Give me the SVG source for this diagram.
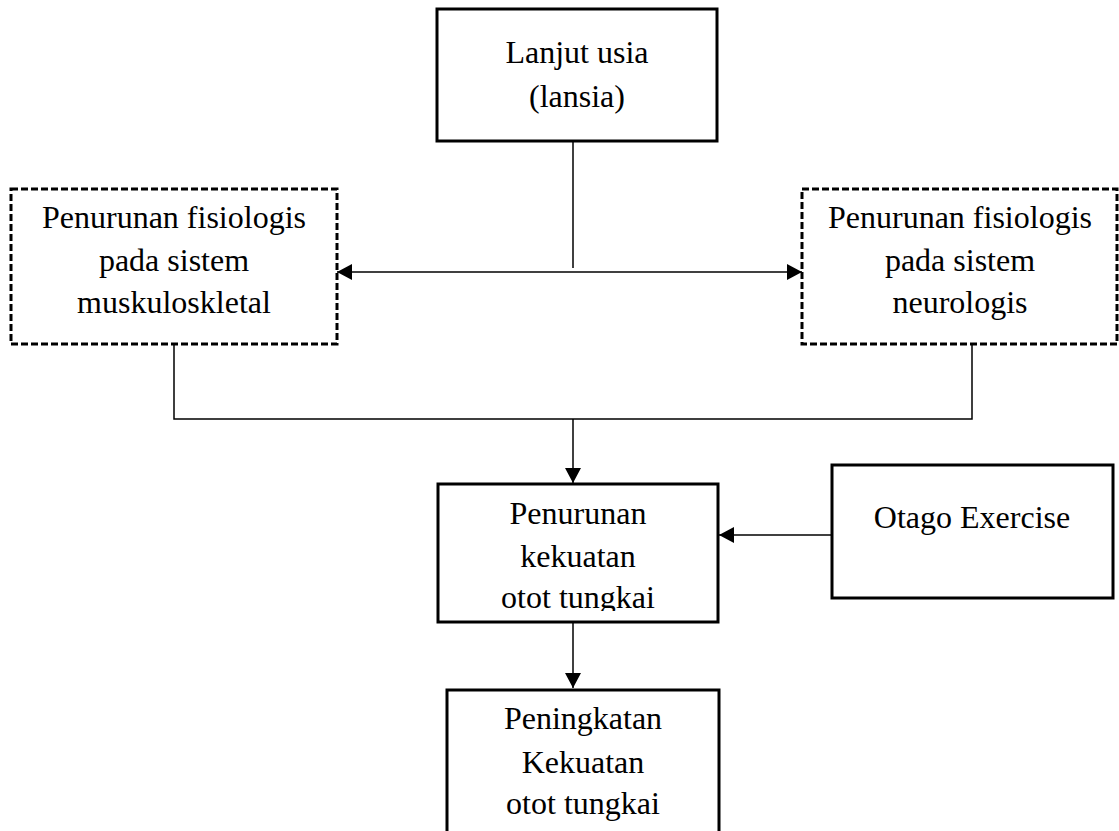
<svg xmlns="http://www.w3.org/2000/svg" width="1119" height="831" viewBox="0 0 1119 831">
<style>
.box{fill:#fff;stroke:#000;stroke-width:3}
.dbox{fill:#fff;stroke:#000;stroke-width:3;stroke-dasharray:7,3}
.t{font-family:"Liberation Serif","Times New Roman",serif;font-size:32px;fill:#000;text-anchor:middle}
.c{fill:none;stroke:#000;stroke-width:1.5}
</style>
<defs>
<marker id="ah" viewBox="0 0 15 16" refX="15" refY="8" markerWidth="15" markerHeight="16" markerUnits="userSpaceOnUse" orient="auto-start-reverse">
<path d="M0,0 L15,8 L0,16 z" fill="#000"/>
</marker>
<clipPath id="clipMid"><rect x="438" y="484" width="280" height="127"/></clipPath>
</defs>
<rect width="1119" height="831" fill="#fff"/>
<g id="connectors">
<line class="c" x1="573" y1="141" x2="573" y2="268"/>
<line class="c" x1="337" y1="272" x2="802" y2="272" marker-start="url(#ah)" marker-end="url(#ah)"/>
<polyline class="c" points="174,345 174,419 972,419 972,345"/>
<line class="c" x1="573" y1="419" x2="573" y2="483" marker-end="url(#ah)"/>
<line class="c" x1="832" y1="535" x2="719" y2="535" marker-end="url(#ah)"/>
<line class="c" x1="573" y1="622" x2="573" y2="688" marker-end="url(#ah)"/>
</g>
<g id="lansia">
<rect class="box" x="437" y="9" width="280" height="132"/>
<text class="t" x="577" y="63">Lanjut usia</text>
<text class="t" x="577" y="107">(lansia)</text>
</g>
<g id="muskulo">
<rect class="dbox" x="11" y="189" width="326" height="155"/>
<text class="t" x="174" y="228">Penurunan fisiologis</text>
<text class="t" x="174" y="271">pada sistem</text>
<text class="t" x="174" y="313">muskuloskletal</text>
</g>
<g id="neuro">
<rect class="dbox" x="802" y="189" width="315" height="155"/>
<text class="t" x="960" y="228">Penurunan fisiologis</text>
<text class="t" x="960" y="271">pada sistem</text>
<text class="t" x="960" y="313">neurologis</text>
</g>
<g id="penurunan">
<rect class="box" x="438" y="484" width="280" height="138"/>
<g clip-path="url(#clipMid)">
<text class="t" x="578" y="524">Penurunan</text>
<text class="t" x="578" y="567">kekuatan</text>
<text class="t" x="578" y="608">otot tungkai</text>
</g>
</g>
<g id="otago">
<rect class="box" x="832" y="465" width="281" height="133"/>
<text class="t" x="972" y="528">Otago Exercise</text>
</g>
<g id="peningkatan">
<path class="box" d="M447,835 L447,690 L719,690 L719,835"/>
<text class="t" x="583" y="729">Peningkatan</text>
<text class="t" x="583" y="773">Kekuatan</text>
<text class="t" x="583" y="814">otot tungkai</text>
</g>
</svg>
